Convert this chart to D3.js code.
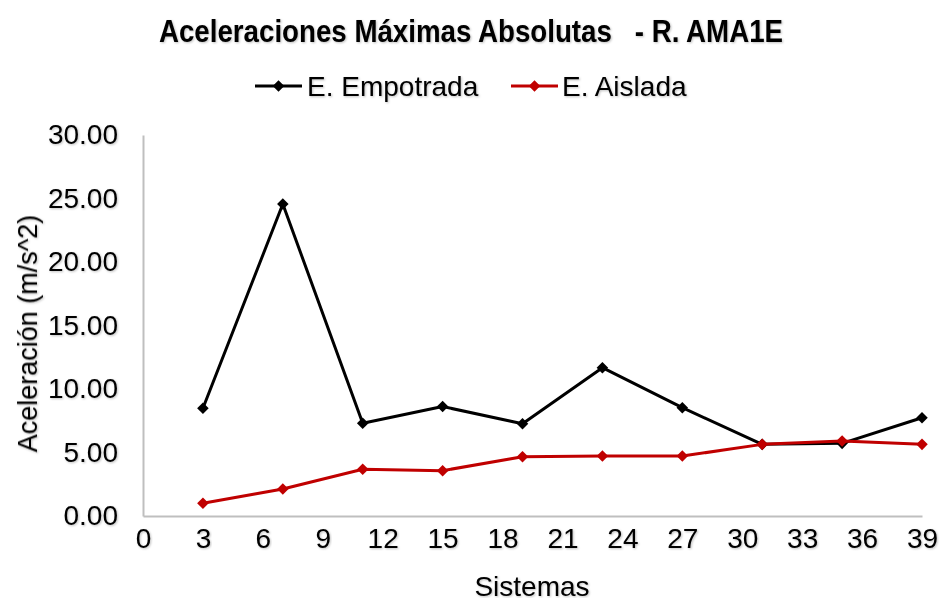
<!DOCTYPE html>
<html>
<head>
<meta charset="utf-8">
<script src="https://cdn.jsdelivr.net/npm/d3@7"></script>
<style>
  body { margin: 0; background: #fff; }
  svg text { font-family: "Liberation Sans", Arial, sans-serif; fill: #000; }
</style>
</head>
<body>
<div id="chart"></div>
<script>
const sistemas = [3, 7, 11, 15, 19, 23, 27, 31, 35, 39];
const empotrada = [8.48, 24.57, 7.30, 8.62, 7.27, 11.68, 8.53, 5.64, 5.72, 7.74];
const aislada = [1.00, 2.12, 3.68, 3.57, 4.67, 4.72, 4.72, 5.64, 5.90, 5.64];
const xTicks = [0, 3, 6, 9, 12, 15, 18, 21, 24, 27, 30, 33, 36, 39];
const yTicks = [0, 5, 10, 15, 20, 25, 30];

const series = [
  {name: "E. Empotrada", color: "#000000", values: empotrada},
  {name: "E. Aislada", color: "#c00000", values: aislada}
];

const width = 941, height = 598;
const margin = {top: 135, right: 19, bottom: 82, left: 143};

const svg = d3.select("#chart").append("svg")
  .attr("width", width)
  .attr("height", height)
  .attr("viewBox", [0, 0, width, height]);

// soft shadow like the original text
svg.append("defs").append("filter")
  .attr("id", "shadow")
  .attr("x", "-5%").attr("y", "-20%").attr("width", "110%").attr("height", "150%")
  .append("feDropShadow")
    .attr("dx", 1).attr("dy", 1).attr("stdDeviation", 1)
    .attr("flood-color", "#000").attr("flood-opacity", 0.25);

const x = d3.scaleLinear()
  .domain([0, 39])
  .range([margin.left, width - margin.right]);

const y = d3.scaleLinear()
  .domain([0, 30])
  .range([height - margin.bottom, margin.top]);

const texts = svg.append("g").attr("filter", "url(#shadow)");

// title (slightly stretched vertically, as in the source image)
texts.append("text")
  .attr("transform", "translate(471,42) scale(1,1.15)")
  .attr("text-anchor", "middle")
  .attr("font-size", 27.7)
  .attr("font-weight", "bold")
  .style("white-space", "pre")
  .text("Aceleraciones Máximas Absolutas   - R. AMA1E");

// axes
const xAxis = g => g
  .attr("transform", `translate(0,${y(0)})`)
  .call(d3.axisBottom(x).tickValues(xTicks).tickSize(0).tickPadding(12))
  .call(g => g.select(".domain").attr("stroke", "#bfbfbf").attr("stroke-width", 2))
  .call(g => g.selectAll("text").attr("font-size", 28).attr("font-family", null));

const yAxis = g => g
  .attr("transform", `translate(${x(0)},0)`)
  .call(d3.axisLeft(y).tickValues(yTicks).tickSize(0).tickPadding(25).tickFormat(d3.format(".2f")))
  .call(g => g.select(".domain").attr("stroke", "#bfbfbf").attr("stroke-width", 2))
  .call(g => g.selectAll("text").attr("font-size", 28).attr("font-family", null));

svg.append("g").call(xAxis)
  .selectAll("text").attr("filter", "url(#shadow)");
svg.append("g").call(yAxis)
  .selectAll("text").attr("filter", "url(#shadow)");

// axis titles
texts.append("text")
  .attr("x", 532)
  .attr("y", 596)
  .attr("text-anchor", "middle")
  .attr("font-size", 28)
  .text("Sistemas");

texts.append("text")
  .attr("transform", `translate(37,${(y(0) + y(30)) / 2 + 8}) rotate(-90)`)
  .attr("text-anchor", "middle")
  .attr("font-size", 27)
  .text("Aceleración (m/s^2)");

// lines + markers
const line = d3.line()
  .x((d, i) => x(sistemas[i]))
  .y(d => y(d));

const diamond = d3.symbol().type(d3.symbolDiamond2).size(85);

series.forEach(s => {
  svg.append("path")
    .datum(s.values)
    .attr("fill", "none")
    .attr("stroke", s.color)
    .attr("stroke-width", 3)
    .attr("stroke-linejoin", "round")
    .attr("d", line);
  svg.append("g")
    .selectAll("path")
    .data(s.values)
    .join("path")
      .attr("transform", (d, i) => `translate(${x(sistemas[i])},${y(d)})`)
      .attr("fill", s.color)
      .attr("d", diamond);
});

// legend
const legendItems = [
  {s: series[0], x0: 255, tx: 307},
  {s: series[1], x0: 511, tx: 562}
];
const legend = svg.append("g");
legendItems.forEach(it => {
  legend.append("line")
    .attr("x1", it.x0).attr("x2", it.x0 + 47)
    .attr("y1", 86).attr("y2", 86)
    .attr("stroke", it.s.color).attr("stroke-width", 3);
  legend.append("path")
    .attr("transform", `translate(${it.x0 + 23.5},86)`)
    .attr("fill", it.s.color)
    .attr("d", diamond);
  legend.append("text")
    .attr("x", it.tx)
    .attr("y", 96)
    .attr("font-size", 28)
    .attr("filter", "url(#shadow)")
    .text(it.s.name);
});
</script>
</body>
</html>
